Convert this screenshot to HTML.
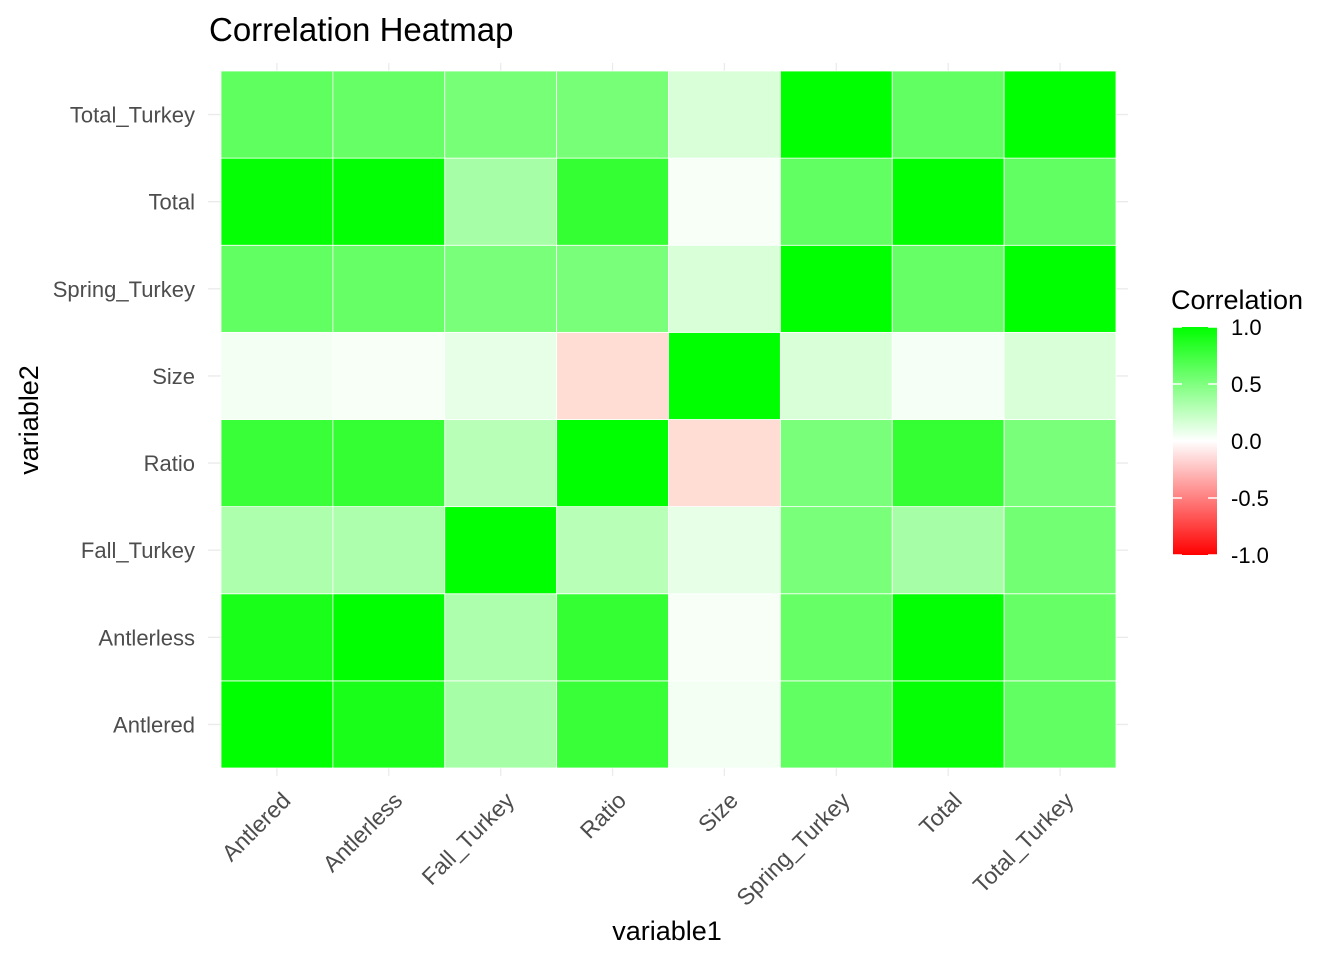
<!DOCTYPE html>
<html><head><meta charset="utf-8"><style>
body{margin:0;background:#fff;font-family:"Liberation Sans",Arial,sans-serif}
</style></head><body>
<svg id="chart" width="1344" height="960" xmlns="http://www.w3.org/2000/svg" style="display:block">
<defs><linearGradient id="lg" x1="0" y1="1" x2="0" y2="0">
<stop offset="0" stop-color="#ff0000"/><stop offset="0.5" stop-color="#ffffff"/><stop offset="1" stop-color="#00ff00"/></linearGradient></defs>
<text x="209" y="41" font-size="33" fill="#000">Correlation Heatmap</text>
<g id="grid"></g><g id="cells"></g><g id="axes"></g>
<text x="667" y="940" font-size="27" text-anchor="middle" fill="#000">variable1</text>
<text transform="translate(38,420) rotate(-90)" font-size="27" text-anchor="middle" fill="#000">variable2</text>
<g>
<text x="1171" y="309" font-size="27" fill="#000">Correlation</text>
<rect x="1173" y="327" width="44" height="228" fill="url(#lg)"/>
<g id="legticks"></g>
</g>
</svg>
<script>
const categories=["Antlered","Antlerless","Fall_Turkey","Ratio","Size","Spring_Turkey","Total","Total_Turkey"];
const rowAntlered=[1,0.9,0.35,0.78,0.05,0.62,0.98,0.62];
const rowAntlerless=[0.9,1,0.32,0.8,0.03,0.6,0.99,0.6];
const rowFall=[0.32,0.32,1,0.28,0.1,0.52,0.35,0.55];
const rowRatio=[0.78,0.8,0.28,1,-0.15,0.52,0.8,0.52];
const rowSize=[0.05,0.03,0.1,-0.15,1,0.15,0.04,0.15];
const rowSpring=[0.62,0.6,0.52,0.52,0.15,1,0.6,1];
const rowTotal=[0.98,0.99,0.35,0.8,0.03,0.62,1,0.62];
const rowTotalTurkey=[0.63,0.6,0.53,0.53,0.15,1,0.62,1];
const values=[rowAntlered,rowAntlerless,rowFall,rowRatio,rowSize,rowSpring,rowTotal,rowTotalTurkey];
const legendTicks=[1,0.5,0,-0.5,-1];
const legendLabels=["1.0","0.5","0.0","-0.5","-1.0"];
const NS="http://www.w3.org/2000/svg";
const X0=221,X1=1116,Y0=71,Y1=768,n=categories.length;
const cw=(X1-X0)/n,ch=(Y1-Y0)/n;
const xc=i=>X0+cw*(i+0.5), yc=j=>Y1-ch*(j+0.5);
function col(v){v=Math.max(-1,Math.min(1,v));let r,g,b;
 if(v>=0){r=Math.round(255*(1-v));g=255;b=r;}else{r=255;g=Math.round(255*(1+v*0.9));b=Math.round(255*(1+v*1.1));}
 return `rgb(${r},${g},${b})`;}
function mk(t,a,p){const e=document.createElementNS(NS,t);for(const k in a)e.setAttribute(k,a[k]);p.appendChild(e);return e;}
const grid=document.getElementById('grid'),cells=document.getElementById('cells'),axes=document.getElementById('axes');
for(let i=0;i<n;i++){
 const gx=mk('line',{x1:xc(i),x2:xc(i),y1:63,y2:776,stroke:'#ebebeb','stroke-width':1.3},grid);
 
 
 const gy=mk('line',{x1:208,x2:1128,y1:yc(i),y2:yc(i),stroke:'#ebebeb','stroke-width':1.3},grid);
 
 
}
for(let j=0;j<n;j++)for(let i=0;i<n;i++){
 const r=mk('rect',{x:X0+cw*i,y:Y1-ch*(j+1),width:cw,height:ch,fill:col(values[j][i]),stroke:'#fff','stroke-width':0.8},cells);
 
 
}
for(let i=0;i<n;i++){
 const t=mk('text',{transform:`translate(${xc(i)+15},${802}) rotate(-45)`,'font-size':23,'text-anchor':'end',fill:'#4d4d4d'},axes);
 t.textContent=categories[i];
 
 
 const u=mk('text',{x:195,y:yc(i)+8,'font-size':22,'text-anchor':'end',fill:'#4d4d4d'},axes);
 u.textContent=categories[i];
 
 
}
const lt=document.getElementById('legticks');
legendTicks.forEach((v,k)=>{
 const y=441-v*114;
 mk('line',{x1:1173,x2:1182,y1:y,y2:y,stroke:'#fff','stroke-width':1.5},lt);
 mk('line',{x1:1208,x2:1217,y1:y,y2:y,stroke:'#fff','stroke-width':1.5},lt);
 const t=mk('text',{x:1231,y:y+8,'font-size':22,fill:'#000'},lt);
 t.textContent=legendLabels[k];
 
 
});
</script>
</body></html>
